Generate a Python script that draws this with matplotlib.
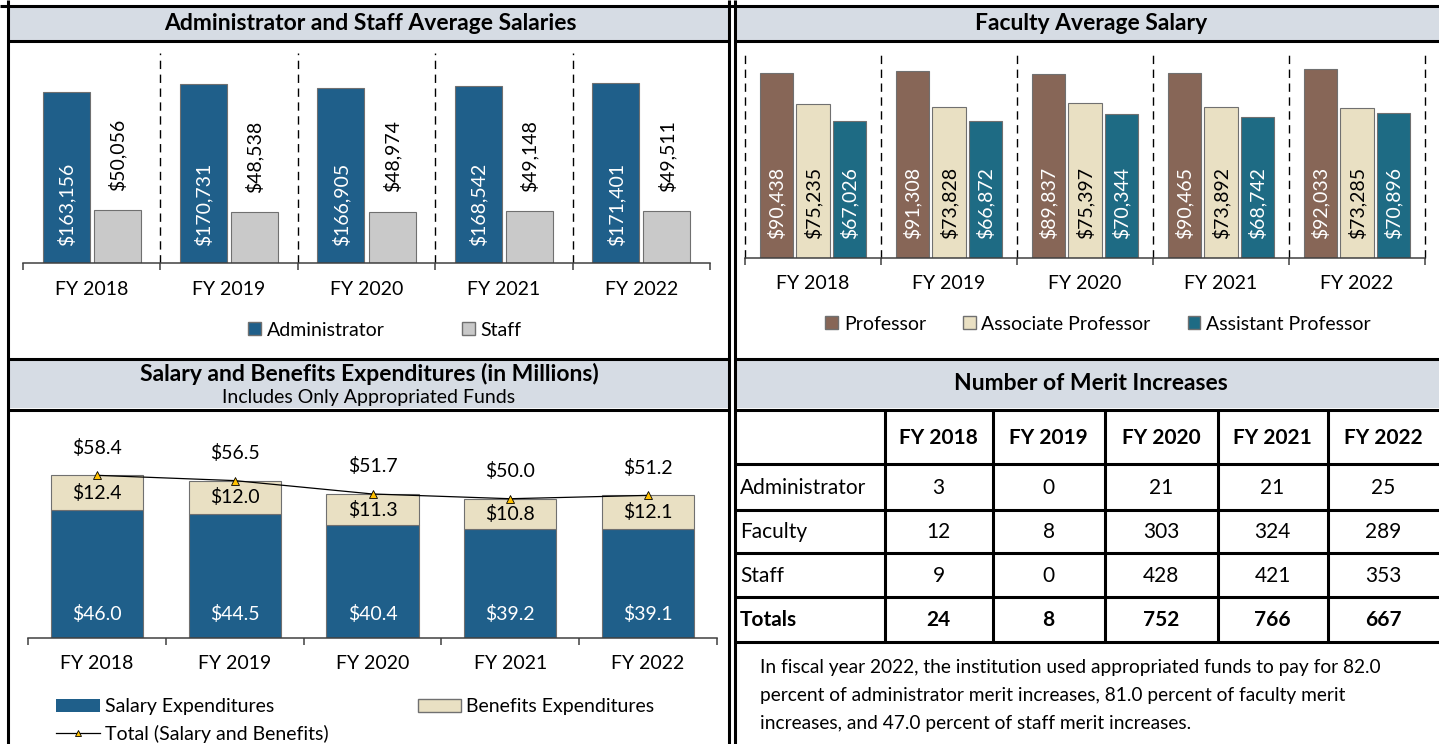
"""
Salary dashboard: average salaries, expenditures and merit increases.
"""
import numpy as np
import matplotlib
matplotlib.use('Agg')
import matplotlib.pyplot as plt
from matplotlib.patches import Patch, Rectangle
from matplotlib.lines import Line2D

plt.rcParams['font.family'] = ['Lato', 'DejaVu Sans']

W, H = 1439, 744

# ---- data ----
years = ['FY 2018', 'FY 2019', 'FY 2020', 'FY 2021', 'FY 2022']
admin_salary = [163156, 170731, 166905, 168542, 171401]
staff_salary = [50056, 48538, 48974, 49148, 49511]
professor = [90438, 91308, 89837, 90465, 92033]
associate = [75235, 73828, 75397, 73892, 73285]
assistant = [67026, 66872, 70344, 68742, 70896]
salary_exp = [46.0, 44.5, 40.4, 39.2, 39.1]
benefits_exp = [12.4, 12.0, 11.3, 10.8, 12.1]
total_exp = [58.4, 56.5, 51.7, 50.0, 51.2]
merit_rows = ['Administrator', 'Faculty', 'Staff']
merit_admin = [3, 0, 21, 21, 25]
merit_faculty = [12, 8, 303, 324, 289]
merit_staff = [9, 0, 428, 421, 353]
merit_totals = [24, 8, 752, 766, 667]
note_lines = [
    'In fiscal year 2022, the institution used appropriated funds to pay for 82.0',
    'percent of administrator merit increases, 81.0 percent of faculty merit',
    'increases, and 47.0 percent of staff merit increases.',
]

# colours
BLUE = '#1F5F8A'
GRAY = '#C9C9C9'
BROWN = '#876657'
BEIGE = '#E9E0C3'
TEAL = '#1E6B84'
BAND = '#D6DCE4'
EDGE = '#707070'
FS = 14
TFS = 16.5

fig = plt.figure(figsize=(W / 100, H / 100), dpi=100)

# decoration layer in pixel coordinates
deco = fig.add_axes([0, 0, 1, 1])
deco.set_xlim(0, W)
deco.set_ylim(H, 0)
deco.axis('off')

LW = 2.2
for x0, x1 in [(9, 728), (737, W)]:
    deco.add_patch(Rectangle((x0, 7), x1 - x0, 33, color=BAND, lw=0))
    deco.add_patch(Rectangle((x0, 361), x1 - x0, 47, color=BAND, lw=0))
    for y in (41, 359, 409.5):
        deco.plot([x0 - 1.5, x1], [y, y], color='black', lw=LW, solid_capstyle='butt')
deco.plot([0, W], [5.5, 5.5], color='black', lw=LW, solid_capstyle='butt')
for x in (7.5, 729.2, 735.3):
    deco.plot([x, x], [0, H], color='black', lw=LW, solid_capstyle='butt')

deco.text(370, 24, 'Administrator and Staff Average Salaries', ha='center', va='center',
          fontsize=TFS, fontweight='bold')
deco.text(1091, 24, 'Faculty Average Salary', ha='center', va='center',
          fontsize=TFS, fontweight='bold')
deco.text(369, 374, 'Salary and Benefits Expenditures (in Millions)', ha='center', va='center',
          fontsize=TFS, fontweight='bold')
deco.text(369, 398, 'Includes Only Appropriated Funds', ha='center', va='center', fontsize=FS)
deco.text(1091, 383, 'Number of Merit Increases', ha='center', va='center',
          fontsize=TFS, fontweight='bold')


def add_ax(x0, y0, x1, y1):
    """Axes from a pixel box (y measured from the top)."""
    return fig.add_axes([x0 / W, 1 - y1 / H, (x1 - x0) / W, (y1 - y0) / H])


def style_cat_axis(ax, n, pad):
    for s in ('top', 'right', 'left'):
        ax.spines[s].set_visible(False)
    ax.spines['bottom'].set_color('#404040')
    ax.spines['bottom'].set_linewidth(1.1)
    ax.set_yticks([])
    ax.set_xlim(0, n)
    ax.set_xticks(np.arange(n + 1))
    ax.set_xticklabels([])
    ax.tick_params(axis='x', which='major', length=5, width=1.1, color='#404040')
    ax.set_xticks(np.arange(n) + 0.5, minor=True)
    ax.set_xticklabels(years, minor=True, fontsize=FS)
    ax.tick_params(axis='x', which='minor', length=0, pad=pad)


centers = np.arange(len(years)) + 0.5

# ---- Administrator and staff ----
ax1 = add_ax(23, 53, 710, 263)
ax1.set_ylim(0, 200000)
style_cat_axis(ax1, len(years), 13)
ax1.vlines([1, 2, 3, 4], 0, 200000, colors='black', lw=1, linestyles=(0, (6, 4)))
ax1.bar(centers - 0.186, admin_salary, 0.342, color=BLUE, edgecolor=EDGE, lw=0.8)
ax1.bar(centers + 0.186, staff_salary, 0.342, color=GRAY, edgecolor=EDGE, lw=0.8)
for c, a, s in zip(centers, admin_salary, staff_salary):
    ax1.annotate(f'${a:,}', (c - 0.186, 0), xytext=(0, 12), textcoords='offset points',
                 rotation=90, ha='center', va='bottom', color='white', fontsize=FS)
    ax1.annotate(f'${s:,}', (c + 0.186, s), xytext=(0, 14), textcoords='offset points',
                 rotation=90, ha='center', va='bottom', color='black', fontsize=FS)
ax1.legend([Patch(facecolor=BLUE, edgecolor=EDGE), Patch(facecolor=GRAY, edgecolor=EDGE)],
           ['Administrator', 'Staff'], loc='center', ncol=2, frameon=False, fontsize=FS,
           bbox_to_anchor=(385 / W, 1 - 330 / H), bbox_transform=fig.transFigure,
           handlelength=0.65, handleheight=0.65, handletextpad=0.3, columnspacing=4.0)

# ---- Faculty ----
ax2 = add_ax(745, 53, 1425, 258)
ax2.set_ylim(0, 100000)
style_cat_axis(ax2, len(years), 12)
ax2.vlines(np.arange(len(years) + 1), 0, 100000, colors='black', lw=1,
           linestyles=(0, (6, 4)), clip_on=False)
groups = [(professor, BROWN, 'white', -0.268), (associate, BEIGE, 'black', 0.0),
          (assistant, TEAL, 'white', 0.268)]
for vals, col, tcol, off in groups:
    ax2.bar(centers + off, vals, 0.243, color=col, edgecolor=EDGE, lw=0.8)
    for c, v in zip(centers, vals):
        ax2.annotate(f'${v:,}', (c + off, 0), xytext=(0, 14), textcoords='offset points',
                     rotation=90, ha='center', va='bottom', color=tcol, fontsize=FS)
ax2.legend([Patch(facecolor=BROWN, edgecolor=EDGE), Patch(facecolor=BEIGE, edgecolor=EDGE),
            Patch(facecolor=TEAL, edgecolor=EDGE)],
           ['Professor', 'Associate Professor', 'Assistant Professor'], loc='center', ncol=3,
           frameon=False, fontsize=FS, bbox_to_anchor=(1098 / W, 1 - 324 / H),
           bbox_transform=fig.transFigure, handlelength=0.65, handleheight=0.65,
           handletextpad=0.3, columnspacing=1.9)

# ---- Salary and benefits expenditures ----
ax3 = add_ax(28, 443, 717, 638)
ax3.set_ylim(0, 70)
style_cat_axis(ax3, len(years), 12)
ax3.bar(centers, salary_exp, 0.668, color=BLUE, edgecolor=EDGE, lw=0.8)
ax3.bar(centers, benefits_exp, 0.668, bottom=salary_exp, color=BEIGE, edgecolor=EDGE, lw=0.8)
ax3.plot(centers, total_exp, color='black', lw=0.9, marker='^', markersize=5.5,
         markerfacecolor='#FFC000', markeredgecolor='black', markeredgewidth=0.6)
for c, s, b, t in zip(centers, salary_exp, benefits_exp, total_exp):
    ax3.annotate(f'${s:.1f}', (c, 0), xytext=(0, 17), textcoords='offset points',
                 ha='center', va='center', color='white', fontsize=FS)
    ax3.text(c, s + b / 2, f'${b:.1f}', ha='center', va='center', color='black', fontsize=FS)
    ax3.annotate(f'${t:.1f}', (c, t), xytext=(0, 20), textcoords='offset points',
                 ha='center', va='center', color='black', fontsize=FS, annotation_clip=False)
ax3.legend([Patch(facecolor=BLUE, edgecolor='none'),
            Line2D([], [], color='black', lw=0.9, marker='^', markersize=5,
                   markerfacecolor='#FFC000', markeredgecolor='black', markeredgewidth=0.6),
            Patch(facecolor=BEIGE, edgecolor=EDGE)],
           ['Salary Expenditures', 'Total (Salary and Benefits)', 'Benefits Expenditures'],
           loc='upper left', ncol=2, frameon=False, fontsize=FS,
           bbox_to_anchor=(56 / W, 1 - 698 / H), bbox_transform=fig.transFigure,
           borderpad=0, borderaxespad=0, handlelength=2.25, handleheight=0.65,
           handletextpad=0.25, labelspacing=0.5, columnspacing=4.6)

# ---- Merit increases table ----
col_edges = [735.3, 884.5, 992.5, 1104.5, 1217.5, 1327.5, W]
row_edges = [409.5, 464, 510, 553, 597, 642]
for x in col_edges[1:-1]:
    deco.plot([x, x], [row_edges[0], row_edges[-1]], color='black', lw=LW, solid_capstyle='butt')
for y in row_edges[1:]:
    deco.plot([col_edges[0], W], [y, y], color='black', lw=LW, solid_capstyle='butt')

table_rows = [merit_admin, merit_faculty, merit_staff]
row_names = merit_rows + ['Totals']
TBL = 15
for j, yr in enumerate(years):
    xc = (col_edges[j + 1] + col_edges[j + 2]) / 2
    deco.text(xc, (row_edges[0] + row_edges[1]) / 2 + 1, yr, ha='center', va='center',
              fontsize=TBL, fontweight='bold')
for i, name in enumerate(row_names):
    yc = (row_edges[i + 1] + row_edges[i + 2]) / 2 + 1
    bold = 'bold' if name == 'Totals' else 'normal'
    deco.text(740, yc, name, ha='left', va='center', fontsize=TBL, fontweight=bold)
    vals = merit_totals if name == 'Totals' else table_rows[i]
    for j, v in enumerate(vals):
        xc = (col_edges[j + 1] + col_edges[j + 2]) / 2
        deco.text(xc, yc, str(v), ha='center', va='center', fontsize=TBL, fontweight=bold)

for k, line in enumerate(note_lines):
    deco.text(760, 667 + 28 * k, line, ha='left', va='center', fontsize=13.8)

fig.savefig('out.png', dpi=100)
